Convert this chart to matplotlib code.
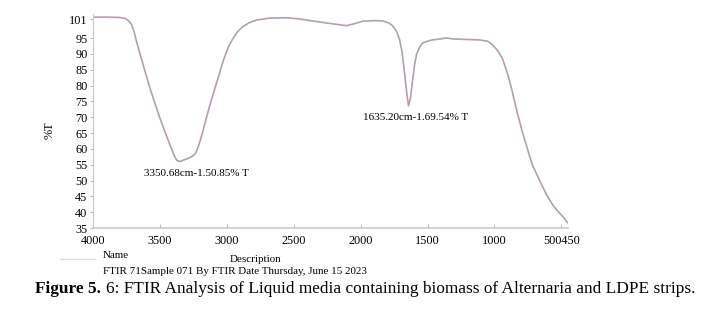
import numpy as np
import matplotlib.pyplot as plt
from matplotlib.lines import Line2D

plt.rcParams['font.family'] = ['Liberation Serif', 'DejaVu Serif']

# FTIR spectrum (wavenumber cm-1, %T)
wavenumber = [4000, 3985, 3900, 3800, 3760, 3735, 3712, 3695, 3675, 3649, 3575,
              3500, 3425, 3395, 3373, 3350, 3320, 3290, 3260, 3235, 3215, 3195,
              3179, 3127, 3075, 3030, 2990, 2955, 2920, 2881, 2830, 2776, 2679,
              2552, 2450, 2358, 2230, 2104, 2040, 1985, 1900, 1836, 1790, 1761,
              1730, 1709, 1690, 1672, 1655, 1642, 1628, 1612, 1597, 1582, 1560,
              1537, 1500, 1463, 1358, 1300, 1239, 1112, 1050, 1015, 975, 940, 900,
              866, 830, 791, 750, 716, 660, 612, 560, 515, 480, 455]
transmittance = [101.5, 101.6, 101.6, 101.5, 101.2, 100.5, 99.3, 97.3, 94.0, 90.0,
                 79.2, 69.7, 61.2, 58.0, 56.3, 56.0, 56.5, 57.0, 57.6, 58.5, 60.5,
                 63.2, 65.6, 73.8, 81.1, 87.4, 92.0, 94.8, 97.0, 98.6, 99.9, 100.7,
                 101.3, 101.4, 101.0, 100.4, 99.6, 98.9, 99.6, 100.3, 100.5, 100.4,
                 99.8, 98.9, 97.0, 94.5, 90.5, 84.0, 77.5, 73.6, 76.0, 81.5, 86.5,
                 89.8, 92.0, 93.4, 94.0, 94.4, 95.0, 94.7, 94.6, 94.4, 94.0, 92.9,
                 91.0, 88.5, 83.5, 78.0, 71.5, 65.3, 59.5, 54.9, 49.8, 45.6, 42.0,
                 39.8, 38.2, 36.7]

x_ticks = [4000, 3500, 3000, 2500, 2000, 1500, 1000, 500]
x_tick_labels = ['4000', '3500', '3000', '2500', '2000', '1500', '1000', '500450']
y_ticks = [35, 40, 45, 50, 55, 60, 65, 70, 75, 80, 85, 90, 95, 101]

peak_labels = ['3350.68cm-1.50.85% T', '1635.20cm-1.69.54% T']
peak_label_pos = [(3620, 52.3), (1985, 69.9)]

fig = plt.figure(figsize=(7.01, 3.12), dpi=100)
ax = fig.add_axes([0.1327, 0.2692, 0.6776, 0.685])

ax.plot(wavenumber, transmittance, color='#b49fae', linewidth=1.2)

for txt, (px, py) in zip(peak_labels, peak_label_pos):
    ax.text(px, py, txt, fontsize=8, ha='left', va='center', color='black')

ax.set_xlim(4000, 450)
ax.set_ylim(35, 102.5)
ax.set_xticks(x_ticks)
ax.set_xticklabels(x_tick_labels)
ax.set_yticks(y_ticks)
ax.tick_params(axis='x', direction='in', length=3, color='#bbbbbb',
               labelsize=8.8, pad=5)
ax.tick_params(axis='y', direction='out', length=2, color='#bbbbbb',
               labelsize=8.8, pad=2)

for s in ['top', 'right']:
    ax.spines[s].set_visible(False)
ax.spines['left'].set_color('#c8c8c8')
ax.spines['bottom'].set_color('#c8c8c8')
ax.spines['bottom'].set_linewidth(1.2)

fig.text(50 / 701, 1 - 130 / 312, '%T', rotation=90, fontsize=8.8,
         ha='center', va='center')

# legend-like footer under the plot
fig.add_artist(Line2D([60 / 701, 95 / 701], [1 - 259 / 312, 1 - 259 / 312],
                      color='#dddddd', linewidth=1))
fig.text(103 / 701, 1 - 256 / 312, 'Name', fontsize=7.9, va='center')
fig.text(230 / 701, 1 - 260 / 312, 'Description', fontsize=7.9, va='center')
fig.text(103 / 701, 1 - 271 / 312,
         'FTIR 71Sample 071 By FTIR Date Thursday, June 15 2023',
         fontsize=7.9, va='center')

cap_y = 1 - 289 / 312
bold = fig.text(35 / 701, cap_y, 'Figure 5.', fontsize=12.4,
                fontweight='bold', va='center')
fig.canvas.draw()
bb = bold.get_window_extent(renderer=fig.canvas.get_renderer())
fig.text(bb.x1 / fig.bbox.width + 5 / 701, cap_y,
         '6: FTIR Analysis of Liquid media containing biomass of Alternaria and LDPE strips.',
         fontsize=12.4, va='center')

fig.savefig('out.png', dpi=100)
